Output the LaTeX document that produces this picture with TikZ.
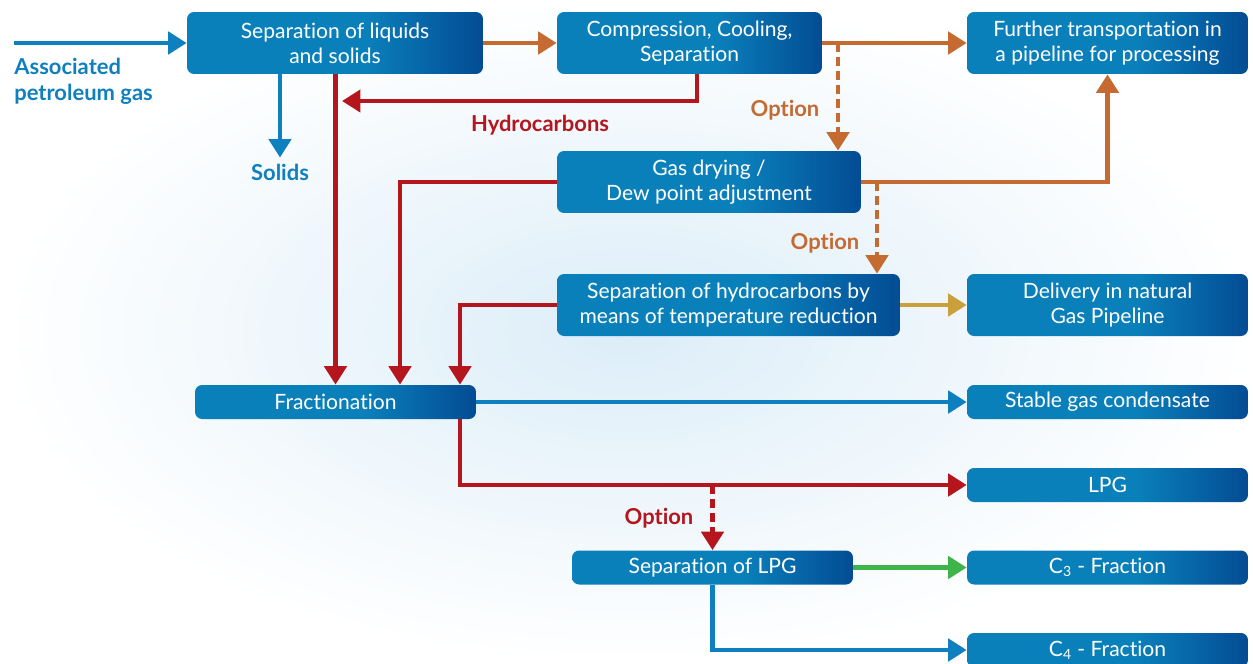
\documentclass[tikz,border=0pt]{standalone}
\usepackage{fontspec}
\setmainfont{Lato}[Ligatures=NoCommon]
\usepackage{xcolor}
\usepackage{tikz}
\usetikzlibrary{arrows.meta, positioning, calc}

\definecolor{boxlight}{HTML}{0A80BA}
\definecolor{boxdark}{HTML}{034C94}
\definecolor{flowblue}{HTML}{0E7FBF}
\definecolor{floworange}{HTML}{C56B32}
\definecolor{flowred}{HTML}{B5161E}
\definecolor{flowgold}{HTML}{C9A03A}
\definecolor{flowgreen}{HTML}{3DB54A}
\definecolor{haze}{HTML}{DCEDF8}
\pgfdeclarehorizontalshading{boxshade}{100bp}{color(0bp)=(boxlight); color(25bp)=(boxlight); color(55bp)=(boxlight); color(75bp)=(boxdark); color(100bp)=(boxdark)}

\begin{document}
\begin{tikzpicture}[x=0.02cm, y=-0.02cm,
	procbox/.style={shade, shading=boxshade, rounded corners=4pt, text=white, align=center,
		inner sep=0pt, minimum height=1.24cm, font=\fontsize{12}{14.2}\selectfont},
	slimbox/.style={procbox, minimum height=0.68cm, minimum width=5.62cm},
	flow/.style={line width=2.8pt, -{Triangle[width=12.5pt,length=10.5pt]}},
	optflow/.style={flow, dash pattern=on 5pt off 3pt},
	lbl/.style={font=\bfseries\fontsize{12.5}{14.5}\selectfont}]
	\useasboundingbox (0,0) rectangle (1253,663);
	\shade[inner color=haze, outer color=white] (0,0) rectangle (1253,663);
	
	% process boxes
	\node [procbox, minimum width=5.92cm] (sepls) at (335,43) {Separation of liquids\\and solids};
	\node [procbox, minimum width=5.30cm] (comp) at (689.5,43) {Compression, Cooling,\\Separation};
	\node [procbox, minimum width=5.62cm] (further) at (1107.5,43) {Further transportation in\\a pipeline for processing};
	\node [procbox, minimum width=6.08cm] (gasdry) at (709,182) {Gas drying /\\Dew point adjustment};
	\node [procbox, minimum width=6.86cm] (septemp) at (728.5,305) {Separation of hydrocarbons by\\means of temperature reduction};
	\node [procbox, minimum width=5.62cm] (delivery) at (1107.5,305) {Delivery in natural\\Gas Pipeline};
	\node [slimbox] (fract) at (335.5,402) {Fractionation};
	\node [slimbox] (seplpg) at (712.5,567.5) {Separation of LPG};
	
	\foreach \n/\y/\t in {stable/402/{Stable gas condensate}, lpg/485/{LPG},
		c3/567.5/{C\textsubscript{3} - Fraction}, c4/650/{C\textsubscript{4} - Fraction}}
	\node [slimbox] (\n) at (1107.5,\y) {\t};
	
	% labels
	\node [lbl, text=flowblue, anchor=north west, align=left, inner sep=0pt] (apg) at (14,58) {Associated\\petroleum gas};
	\node [lbl, text=flowblue] (solids) at (280,172) {Solids};
	\node [lbl, text=flowred] (hclabel) at (540,125) {Hydrocarbons};
	\node [lbl, text=floworange] (opt1label) at (785,110) {Option};
	\node [lbl, text=floworange] (opt2label) at (825,243) {Option};
	\node [lbl, text=flowred] (opt3label) at (659,518) {Option};
	
	\coordinate (gasin) at (14,43);
	\coordinate (hcturn) at (697,101);
	\coordinate (hcend) at (342,101);
	\coordinate (drop2) at (400,0);
	\coordinate (drop3) at (460,0);
	\coordinate (opt1) at (838,43);
	\coordinate (opt2) at (877,182);
	\coordinate (opt3) at (seplpg.north |- lpg.west);
	
	% connectors
	\draw [flow, flowblue] (gasin) -- (sepls.west);
	\draw [flow, flowblue] (sepls.south -| solids) -- (solids.north);
	\draw [flow, floworange] (sepls.east) -- (comp.west);
	\draw [flow, floworange] (comp.east) -- (further.west);
	\draw [flow, flowred] (comp.south -| hcturn) -- (hcturn) -- (hcend);
	\draw [flow, flowred] (sepls.south -| fract.north) -- (fract.north);
	\draw [flow, flowred] (gasdry.west) -| (fract.north -| drop2);
	\draw [flow, flowred] (septemp.west) -| (fract.north -| drop3);
	\draw [flow, floworange] (gasdry.east) -| (further.south);
	\draw [optflow, floworange] (opt1) -- (gasdry.north -| opt1);
	\draw [optflow, floworange] (opt2) -- (septemp.north -| opt2);
	\draw [flow, flowgold] (septemp.east) -- (delivery.west);
	\draw [flow, flowblue] (fract.east) -- (stable.west);
	\draw [flow, flowred] (fract.south -| drop3) |- (lpg.west);
	\draw [optflow, flowred] (opt3) -- (seplpg.north);
	\draw [flow, flowgreen] (seplpg.east) -- (c3.west);
	\draw [flow, flowblue] (seplpg.south) |- (c4.west);
\end{tikzpicture}
\end{document}
